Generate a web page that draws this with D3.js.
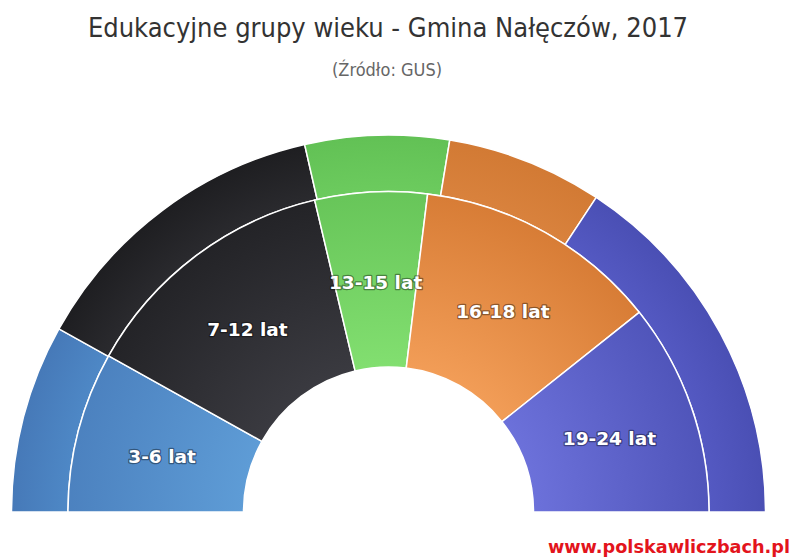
<!DOCTYPE html>
<html>
<head>
<meta charset="utf-8">
<script src="https://cdn.jsdelivr.net/npm/d3@7"></script>
<style>
  body { margin: 0; background: #fff; }
  svg { display: block; }
</style>
</head>
<body>
<div id="chart"></div>
<script>
// Data
const categories = ["3-6 lat", "7-12 lat", "13-15 lat", "16-18 lat", "19-24 lat"];
const innerValues = [16.2, 26.4, 11.3, 24.7, 21.4];
const outerValues = [340, 563, 260, 282, 662];

// colours: [light near hole, dark at edge] for inner ring, flat-ish for outer
const innerColors = [
    ["#5e9cd6", "#4679b8"],
    ["#3a3a40", "#1c1c1f"],
    ["#82df70", "#5fbd52"],
    ["#f29d57", "#cf722b"],
    ["#6c71da", "#474cb0"]
];
const outerColors = [
    ["#4e88c6", "#4679b8"],
    ["#2a2a2e", "#1e1e21"],
    ["#6ccb5e", "#62c155"],
    ["#d9823d", "#d27a34"],
    ["#5459c2", "#4a4fb4"]
];

const W = 796, H = 558;
const cx = 388.5, cy = 512;
const holeR = 145, midR = 320.5, outerR = 377;

const svg = d3.select("#chart")
    .append("svg")
    .attr("width", W)
    .attr("height", H);

// Title and subtitle
svg.append("text")
    .attr("x", 388)
    .attr("y", 37)
    .attr("text-anchor", "middle")
    .style("font-family", "'DejaVu Sans Condensed', 'DejaVu Sans', sans-serif")
    .style("font-size", "27px")
    .style("fill", "#333")
    .text("Edukacyjne grupy wieku - Gmina Nałęczów, 2017");

svg.append("text")
    .attr("x", 387)
    .attr("y", 76)
    .attr("text-anchor", "middle")
    .style("font-family", "'DejaVu Sans Condensed', 'DejaVu Sans', sans-serif")
    .style("font-size", "18px")
    .style("fill", "#666")
    .text("(Źródło: GUS)");

const defs = svg.append("defs");

function addGradient(id, colors, r0) {
    const g = defs.append("radialGradient")
        .attr("id", id)
        .attr("gradientUnits", "userSpaceOnUse")
        .attr("cx", 0).attr("cy", 0).attr("r", outerR);
    g.append("stop").attr("offset", r0).attr("stop-color", colors[0]);
    g.append("stop").attr("offset", 1).attr("stop-color", colors[1]);
}
innerColors.forEach((c, i) => addGradient("gin" + i, c, holeR / outerR));
outerColors.forEach((c, i) => addGradient("gout" + i, c, midR / outerR));

const pie = d3.pie()
    .sort(null)
    .startAngle(-Math.PI / 2)
    .endAngle(Math.PI / 2);

const innerArc = d3.arc().innerRadius(holeR).outerRadius(midR);
const outerArc = d3.arc().innerRadius(midR).outerRadius(outerR);
const labelArc = d3.arc().innerRadius(234).outerRadius(234);

const g = svg.append("g")
    .attr("transform", `translate(${cx}, ${cy})`);

// Outer ring
g.selectAll("path.outer")
    .data(pie(outerValues))
    .join("path")
    .attr("class", "outer")
    .attr("d", outerArc)
    .attr("fill", (d, i) => `url(#gout${i})`)
    .attr("stroke", "#fff")
    .attr("stroke-width", 1.5)
    .attr("stroke-linejoin", "round");

// Inner ring
const innerPie = pie(innerValues);
g.selectAll("path.inner")
    .data(innerPie)
    .join("path")
    .attr("class", "inner")
    .attr("d", innerArc)
    .attr("fill", (d, i) => `url(#gin${i})`)
    .attr("stroke", "#fff")
    .attr("stroke-width", 1.5)
    .attr("stroke-linejoin", "round");

// Labels
g.selectAll("text.label")
    .data(innerPie)
    .join("text")
    .attr("class", "label")
    .attr("transform", d => `translate(${labelArc.centroid(d)})`)
    .attr("text-anchor", "middle")
    .attr("dy", "0.55em")
    .style("font-family", "'DejaVu Sans', sans-serif")
    .style("font-weight", "bold")
    .style("font-size", "18.5px")
    .style("fill", "#fff")
    .style("stroke", "rgba(0,0,0,0.4)")
    .style("stroke-width", 2.5)
    .style("paint-order", "stroke")
    .style("stroke-linejoin", "round")
    .text((d, i) => categories[i]);

// Credit
svg.append("text")
    .attr("x", 790)
    .attr("y", 553)
    .attr("text-anchor", "end")
    .style("font-family", "'DejaVu Sans', sans-serif")
    .style("font-weight", "bold")
    .style("font-size", "17.7px")
    .style("fill", "#e3141c")
    .text("www.polskawliczbach.pl");
</script>
</body>
</html>
